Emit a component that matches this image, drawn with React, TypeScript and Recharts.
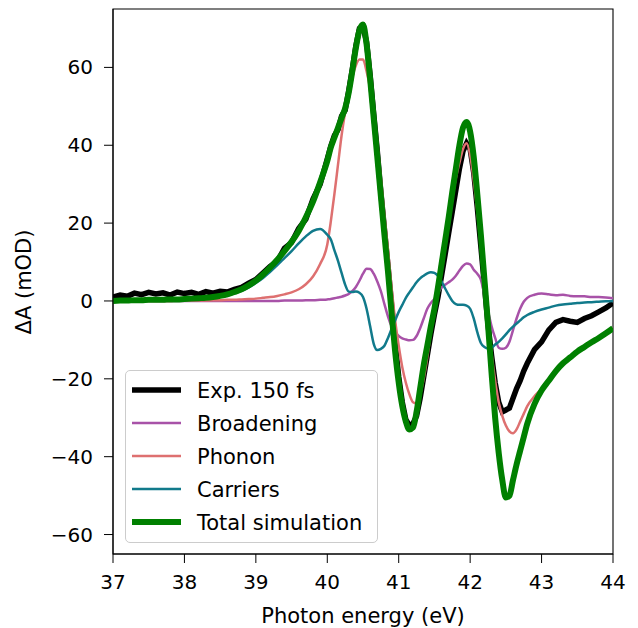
import { LineChart, Line, XAxis, YAxis, ReferenceArea } from "recharts";

// photon energy grid (eV)
const energy = [
  37.0, 37.1, 37.2, 37.3, 37.4, 37.5, 37.6, 37.7, 37.8, 37.9, 38.0, 38.1, 38.2, 38.3, 38.4, 38.5,
  38.6, 38.7, 38.8, 38.9, 39.0, 39.1, 39.2, 39.3, 39.4, 39.5, 39.6, 39.7, 39.8, 39.9, 40.0,
  40.05, 40.1, 40.15, 40.2, 40.25, 40.3, 40.35, 40.4, 40.45, 40.5, 40.55, 40.6, 40.65, 40.7, 40.75,
  40.8, 40.85, 40.9, 40.95, 41.0, 41.05, 41.1, 41.15, 41.2, 41.25, 41.3, 41.35, 41.4, 41.45, 41.5,
  41.55, 41.6, 41.65, 41.7, 41.75, 41.8, 41.85, 41.9, 41.95, 42.0, 42.05, 42.1, 42.15, 42.2, 42.25,
  42.3, 42.35, 42.4, 42.45, 42.5, 42.55, 42.6, 42.65, 42.7, 42.75, 42.8,
  42.9, 43.0, 43.1, 43.2, 43.3, 43.4, 43.5, 43.6, 43.7, 43.8, 43.9, 44.0,
];

// ΔA (mOD)
const expData = [
  1.0, 1.5, 1.2, 2.0, 1.6, 2.2, 1.8, 2.1, 1.5, 2.3, 1.9, 2.2, 1.7, 2.4, 2.0, 2.5,
  2.3, 3.0, 3.5, 4.6, 5.5, 7.2, 8.9, 10.2, 13.5, 15.0, 18.6, 21.0, 26.2, 30.0, 36.5,
  39.8, 42.5, 44.0, 47.5, 49.0, 54.0, 59.5, 65.5, 70.0, 70.5, 66.5, 58.0, 48.0, 38.5, 28.0,
  18.5, 9.0, -1.0, -11.0, -19.5, -26.0, -30.5, -32.0, -31.5, -29.5, -25.0, -19.5, -14.0, -8.5, -3.5,
  1.0, 6.5, 12.0, 17.5, 23.0, 28.5, 34.0, 38.5, 40.5, 39.0, 33.0, 24.0, 14.0, 4.0, -6.0,
  -14.0, -21.0, -26.0, -28.5, -28.0, -27.5, -25.0, -22.5, -20.5, -18.0, -16.0,
  -12.5, -10.5, -7.5, -5.5, -4.8, -5.2, -5.5, -4.5, -3.8, -2.8, -1.8, -0.5,
];

const broadening = [
  0, 0, 0, 0, 0, 0, 0, 0, 0, 0, 0, 0, 0, 0, 0, 0,
  0, 0, 0, 0, 0, 0, 0, 0, 0.1, 0.1, 0.1, 0.2, 0.2, 0.3, 0.4,
  0.5, 0.7, 0.9, 1.1, 1.4, 1.8, 2.5, 3.6, 5.2, 7.0, 8.3, 8.2, 7.0, 5.0, 2.5,
  -0.8, -4.0, -6.5, -8.0, -9.0, -9.6, -9.9, -10.1, -10.0, -9.0, -7.0, -4.5, -2.0, -0.5, 0.5,
  2.0, 3.5, 4.2, 4.8, 5.5, 6.5, 7.8, 9.0, 9.6, 9.4, 8.0, 7.0, 5.5, 1.5, -2.5,
  -6.5, -9.5, -12.0, -12.3, -12.0, -10.5, -7.5, -4.5, -2.0, -0.2, 0.8,
  1.6, 1.9, 1.7, 1.5, 1.6, 1.3, 1.2, 1.2, 1.0, 1.0, 0.9, 0.7,
];

const phonon = [
  0, 0, 0, 0, 0, 0, 0, 0, 0, 0.1, 0.1, 0.1, 0.1, 0.1, 0.2, 0.2,
  0.3, 0.3, 0.4, 0.5, 0.6, 0.8, 1.0, 1.3, 1.7, 2.2, 3.0, 4.3, 6.3, 9.5, 14.5,
  20.5, 27.5, 35.0, 42.5, 48.5, 53.5, 57.5, 60.5, 62.0, 62.0, 59.0, 54.5, 48.5, 40.5, 31.5,
  22.0, 13.0, 3.5, -5.0, -11.5, -17.0, -21.0, -24.0, -26.0, -26.3, -24.0, -20.0, -14.5, -8.0, -1.5,
  5.5, 11.5, 16.5, 21.5, 26.5, 31.5, 35.5, 39.0, 40.5, 37.5, 31.0, 23.0, 14.0, 4.0, -5.0,
  -13.5, -20.5, -26.0, -29.5, -32.0, -33.5, -34.0, -33.0, -31.0, -29.0, -27.0,
  -24.5, -22.5, -20.0, -17.8, -15.8, -14.2, -12.8, -11.6, -10.5, -9.4, -8.3, -7.0,
];

const carriers = [
  0, 0, 0.1, 0.1, 0.1, 0.2, 0.2, 0.2, 0.3, 0.3, 0.4, 0.5, 0.6, 0.7, 0.8, 1.1,
  1.4, 2.0, 2.6, 3.5, 4.6, 5.9, 7.5, 9.2, 11.0, 12.8, 14.8, 16.6, 18.0, 18.5, 17.0,
  15.8, 13.0, 10.3, 7.2, 4.2, 2.4, 2.3, 2.4, 2.1, 1.0, -2.0, -6.5, -11.0, -12.6, -12.3,
  -11.5, -9.5, -7.2, -5.0, -2.8, -1.0, 0.8, 2.2, 3.5, 4.8, 5.8, 6.5, 7.1, 7.4, 7.2,
  6.4, 5.0, 3.2, 1.5, 0.0, -0.8, -1.0, -1.0, -1.2, -2.0, -4.5, -8.0, -10.8, -11.8, -12.2,
  -12.0, -11.2, -10.5, -9.6, -8.6, -7.5, -6.6, -5.8, -5.0, -4.2, -3.6,
  -2.8, -2.2, -1.7, -1.2, -0.9, -0.7, -0.5, -0.4, -0.3, -0.2, -0.1, 0.0,
];

const totalSim = [
  0.0, 0.1, 0.1, 0.2, 0.2, 0.3, 0.3, 0.3, 0.4, 0.4, 0.5, 0.6, 0.7, 0.8, 1.0, 1.3,
  1.7, 2.3, 3.0, 4.0, 5.2, 6.8, 8.6, 10.6, 12.8, 15.2, 18.0, 21.5, 25.5, 30.5, 36.0,
  39.5, 42.0, 44.5, 47.0, 49.5, 53.5, 59.0, 65.0, 69.5, 71.0, 66.0, 57.0, 47.0, 37.0, 27.0,
  17.0, 7.5, -3.0, -13.0, -21.0, -27.0, -31.0, -33.0, -32.5, -28.5, -22.5, -16.5, -11.5, -6.5, -2.0,
  3.5, 9.5, 15.5, 21.5, 28.0, 34.0, 40.0, 44.5, 46.0, 43.5, 37.0, 27.5, 17.0, 5.5, -6.0,
  -18.5, -30.0, -39.0, -46.0, -50.5, -50.0, -46.0, -42.0, -38.5, -35.0, -31.5,
  -26.5, -23.0, -20.5, -18.0, -16.0, -14.5, -13.0, -11.8, -10.6, -9.5, -8.3, -7.0,
];

const xTicks = [37, 38, 39, 40, 41, 42, 43, 44];
const yTicks = [-60, -40, -20, 0, 20, 40, 60];

const series = [
  { key: "exp", name: "Exp. 150 fs", color: "#000000", width: 5.5, curve: "linear" },
  { key: "broad", name: "Broadening", color: "#a852a8", width: 2.5, curve: "monotone" },
  { key: "phonon", name: "Phonon", color: "#de7070", width: 2.5, curve: "monotone" },
  { key: "carriers", name: "Carriers", color: "#117a8b", width: 2.5, curve: "monotone" },
  { key: "total", name: "Total simulation", color: "#008000", width: 6, curve: "monotone" },
];

const rows = energy.map((e, i) => ({
  e,
  exp: expData[i],
  broad: broadening[i],
  phonon: phonon[i],
  carriers: carriers[i],
  total: totalSim[i],
}));

const FONT = "'DejaVu Sans', sans-serif";
const fmtMinus = (v: number) => String(v).replace("-", "\u2212");

function LegendBox() {
  return (
    <div
      style={{
        position: "absolute",
        left: 125,
        top: 370,
        width: 251,
        height: 171,
        border: "1.3px solid #cccccc",
        borderRadius: 5,
        background: "rgba(255,255,255,0.8)",
      }}
    >
      <svg width={251} height={171} style={{ display: "block" }}>
        {series.map((s, i) => {
          const y = 19 + i * 33;
          return (
            <g key={s.key}>
              <line x1={6} x2={55} y1={y} y2={y} stroke={s.color} strokeWidth={s.width} />
              <text x={71} y={y + 7.6} fontSize={21} fontFamily={FONT} fill="#000">
                {s.name}
              </text>
            </g>
          );
        })}
      </svg>
    </div>
  );
}

export default function App() {
  return (
    <div
      style={{
        position: "absolute",
        left: 0,
        top: 0,
        width: 638,
        height: 628,
        background: "#fff",
        fontFamily: FONT,
      }}
    >
      <LineChart width={638} height={628} data={rows} margin={{ top: 9, right: 25, bottom: 4, left: 53 }}>
        <XAxis
          dataKey="e"
          type="number"
          domain={[37, 44]}
          ticks={xTicks}
          allowDataOverflow
          height={70}
          tickSize={9}
          tickMargin={12}
          stroke="#000"
          tick={{ fill: "#000", fontSize: 20, fontFamily: FONT }}
          label={{
            value: "Photon energy (eV)",
            position: "insideBottom",
            offset: 1,
            fill: "#000",
            fontSize: 21,
            fontFamily: FONT,
          }}
        />
        <YAxis
          type="number"
          domain={[-65, 75]}
          ticks={yTicks}
          allowDataOverflow
          width={60}
          tickSize={9}
          tickMargin={11}
          stroke="#000"
          tickFormatter={fmtMinus}
          tick={{ fill: "#000", fontSize: 20, fontFamily: FONT }}
        />
        {series.map((s) => (
          <Line
            key={s.key}
            dataKey={s.key}
            name={s.name}
            type={s.curve as any}
            stroke={s.color}
            strokeWidth={s.width}
            dot={false}
            activeDot={false}
            isAnimationActive={false}
          />
        ))}
        <ReferenceArea x1={37} x2={44} y1={-65} y2={75} fill="none" stroke="#000" strokeWidth={1.1} />
      </LineChart>
      <svg style={{ position: "absolute", left: 0, top: 0 }} width={60} height={628}>
        <text
          x={31}
          y={282}
          transform="rotate(-90 31 282)"
          textAnchor="middle"
          fontSize={21}
          fontFamily={FONT}
          fill="#000"
        >
          ΔA (mOD)
        </text>
      </svg>
      <LegendBox />
    </div>
  );
}
